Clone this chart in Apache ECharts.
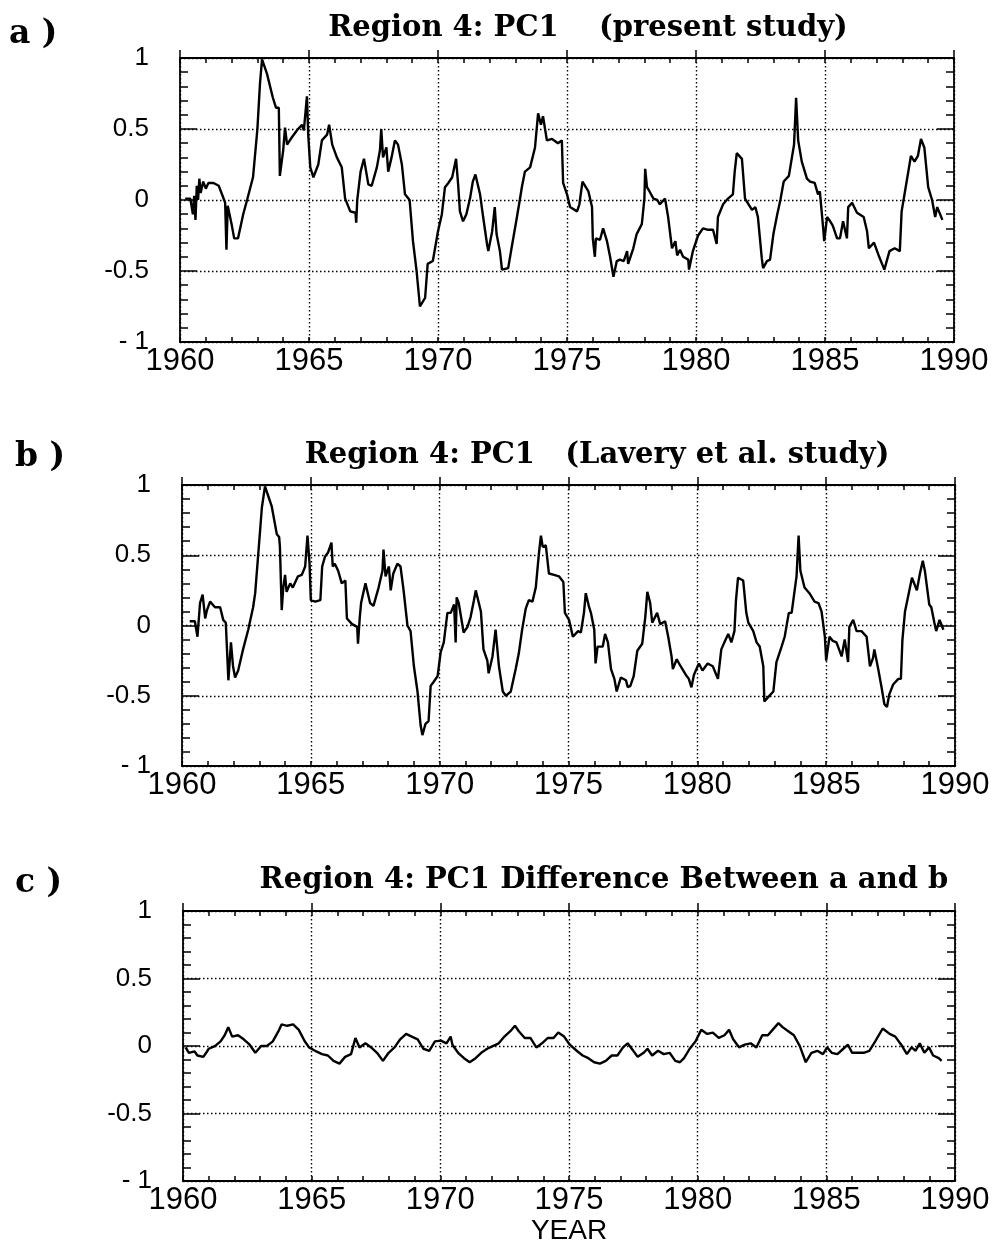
<!DOCTYPE html>
<html>
<head>
<meta charset="utf-8">
<script src="https://cdn.jsdelivr.net/npm/echarts@6/dist/echarts.min.js"></script>
<style>html,body{margin:0;padding:0;background:#fff}#c{width:999px;height:1246px}</style>
</head>
<body>
<div id="c"></div>
<script>
// ---- data (year, value) ----
const TITLES = ['Region 4: PC1    (present study)', 'Region 4: PC1   (Lavery et al. study)', 'Region 4: PC1 Difference Between a and b'];
const PANEL_LABELS = ['a )', 'b )', 'c )'];
const X_NAME = 'YEAR';

const TIME_A = [1960.2,1960.4,1960.5,1960.55,1960.6,1960.65,1960.7,1960.75,1960.8,1960.9,1961.0,1961.1,1961.3,1961.5,1961.65,1961.75,1961.8,1961.85,1962.0,1962.1,1962.25,1962.45,1962.6,1962.83,1963.0,1963.1,1963.18,1963.37,1963.6,1963.72,1963.83,1963.87,1964.0,1964.07,1964.15,1964.33,1964.53,1964.73,1964.8,1964.92,1964.97,1965.05,1965.17,1965.36,1965.5,1965.7,1965.78,1965.9,1966.08,1966.27,1966.4,1966.6,1966.8,1966.83,1966.87,1967.0,1967.13,1967.3,1967.43,1967.63,1967.75,1967.8,1967.87,1968.0,1968.07,1968.2,1968.33,1968.45,1968.6,1968.72,1968.9,1969.03,1969.17,1969.3,1969.5,1969.6,1969.8,1970.0,1970.15,1970.27,1970.4,1970.55,1970.7,1970.78,1970.85,1970.97,1971.1,1971.24,1971.35,1971.45,1971.63,1971.75,1971.9,1971.95,1972.1,1972.2,1972.27,1972.4,1972.48,1972.72,1972.85,1973.05,1973.17,1973.25,1973.37,1973.57,1973.76,1973.88,1973.99,1974.07,1974.22,1974.42,1974.65,1974.8,1974.85,1975.0,1975.12,1975.39,1975.48,1975.6,1975.83,1975.97,1976.0,1976.08,1976.12,1976.28,1976.4,1976.55,1976.67,1976.8,1976.93,1977.05,1977.2,1977.33,1977.37,1977.57,1977.7,1977.9,1978.0,1978.03,1978.1,1978.2,1978.35,1978.5,1978.6,1978.8,1978.92,1979.07,1979.2,1979.27,1979.38,1979.5,1979.7,1979.73,1979.88,1980.08,1980.27,1980.47,1980.66,1980.8,1980.85,1981.05,1981.24,1981.43,1981.5,1981.58,1981.78,1981.9,1982.17,1982.3,1982.4,1982.55,1982.6,1982.75,1982.87,1983.0,1983.15,1983.27,1983.4,1983.6,1983.8,1983.88,1983.96,1984.1,1984.3,1984.42,1984.6,1984.73,1984.8,1984.93,1984.97,1985.08,1985.2,1985.3,1985.47,1985.58,1985.7,1985.85,1985.9,1986.05,1986.24,1986.5,1986.63,1986.7,1986.9,1987.1,1987.3,1987.5,1987.7,1987.9,1987.97,1988.1,1988.33,1988.47,1988.6,1988.72,1988.85,1989.0,1989.15,1989.27,1989.35,1989.55];
const VALUE_A = [0.01,0.01,-0.1,0.03,-0.14,0.1,0.0,0.15,0.05,0.13,0.08,0.12,0.12,0.1,0.03,-0.02,-0.35,-0.04,-0.17,-0.27,-0.27,-0.1,0.0,0.16,0.5,0.82,0.99,0.89,0.72,0.65,0.65,0.17,0.35,0.51,0.39,0.44,0.49,0.53,0.49,0.73,0.46,0.23,0.16,0.25,0.42,0.46,0.53,0.39,0.3,0.23,0.01,-0.08,-0.09,-0.16,0.0,0.2,0.29,0.11,0.1,0.23,0.35,0.5,0.3,0.37,0.2,0.3,0.42,0.39,0.25,0.04,0.0,-0.29,-0.5,-0.75,-0.69,-0.45,-0.43,-0.22,-0.1,0.09,0.12,0.16,0.29,0.11,-0.08,-0.15,-0.1,0.01,0.13,0.18,0.04,-0.12,-0.31,-0.36,-0.22,-0.05,-0.24,-0.36,-0.49,-0.48,-0.34,-0.13,0.0,0.09,0.2,0.23,0.37,0.61,0.53,0.59,0.42,0.43,0.4,0.42,0.12,0.04,-0.05,-0.08,-0.03,0.13,0.06,-0.05,-0.27,-0.4,-0.27,-0.28,-0.2,-0.29,-0.4,-0.54,-0.43,-0.42,-0.43,-0.36,-0.45,-0.34,-0.24,-0.17,0.01,0.22,0.09,0.06,0.01,0.0,-0.03,0.01,-0.12,-0.34,-0.29,-0.39,-0.35,-0.4,-0.42,-0.49,-0.36,-0.25,-0.2,-0.21,-0.21,-0.31,-0.12,-0.03,0.01,0.04,0.2,0.33,0.29,0.01,-0.07,-0.05,-0.12,-0.41,-0.48,-0.43,-0.42,-0.24,-0.1,0.0,0.13,0.17,0.39,0.72,0.42,0.27,0.15,0.13,0.12,0.04,0.06,-0.2,-0.29,-0.12,-0.15,-0.18,-0.27,-0.27,-0.15,-0.27,-0.05,-0.02,-0.09,-0.12,-0.22,-0.34,-0.3,-0.4,-0.49,-0.36,-0.34,-0.36,-0.08,0.06,0.31,0.27,0.31,0.43,0.37,0.09,0.0,-0.12,-0.05,-0.14];

const TIME_B = [1960.3,1960.5,1960.6,1960.7,1960.8,1960.9,1960.97,1961.09,1961.28,1961.48,1961.6,1961.7,1961.8,1961.9,1961.98,1962.06,1962.18,1962.37,1962.57,1962.76,1962.84,1962.96,1963.1,1963.22,1963.35,1963.48,1963.68,1963.77,1963.8,1963.87,1963.93,1964.0,1964.06,1964.2,1964.3,1964.5,1964.65,1964.78,1964.87,1964.95,1965.0,1965.17,1965.37,1965.44,1965.55,1965.67,1965.8,1965.85,1965.93,1966.06,1966.2,1966.34,1966.4,1966.6,1966.8,1966.83,1966.9,1966.95,1967.12,1967.3,1967.43,1967.63,1967.78,1967.82,1967.9,1968.03,1968.1,1968.2,1968.36,1968.48,1968.6,1968.75,1968.87,1969.0,1969.14,1969.26,1969.33,1969.45,1969.57,1969.65,1969.77,1969.92,1970.04,1970.16,1970.3,1970.43,1970.56,1970.62,1970.66,1970.74,1970.93,1971.08,1971.2,1971.33,1971.4,1971.6,1971.7,1971.85,1971.9,1972.05,1972.17,1972.3,1972.45,1972.57,1972.76,1972.95,1973.07,1973.2,1973.34,1973.46,1973.6,1973.73,1973.85,1973.93,1974.0,1974.12,1974.24,1974.44,1974.63,1974.8,1974.86,1975.02,1975.17,1975.37,1975.48,1975.6,1975.67,1975.8,1975.87,1976.0,1976.05,1976.13,1976.33,1976.42,1976.53,1976.65,1976.78,1976.87,1977.03,1977.23,1977.3,1977.4,1977.53,1977.67,1977.86,1977.98,1978.06,1978.17,1978.25,1978.44,1978.56,1978.75,1978.87,1979.0,1979.05,1979.2,1979.35,1979.55,1979.67,1979.77,1979.87,1980.06,1980.2,1980.4,1980.6,1980.8,1980.93,1981.05,1981.2,1981.32,1981.44,1981.5,1981.58,1981.78,1981.9,1981.98,1982.17,1982.3,1982.42,1982.56,1982.6,1982.75,1982.95,1983.07,1983.27,1983.39,1983.55,1983.66,1983.85,1983.93,1984.0,1984.16,1984.35,1984.55,1984.7,1984.82,1984.95,1985.0,1985.13,1985.26,1985.4,1985.6,1985.72,1985.85,1985.9,1986.05,1986.18,1986.37,1986.57,1986.7,1986.82,1986.87,1987.02,1987.14,1987.26,1987.36,1987.45,1987.6,1987.8,1987.9,1987.96,1988.06,1988.33,1988.52,1988.64,1988.75,1988.83,1989.0,1989.08,1989.2,1989.27,1989.4,1989.55];
const VALUE_B = [0.03,0.03,-0.08,0.16,0.22,0.05,0.11,0.17,0.13,0.13,0.04,0.02,-0.39,-0.12,-0.29,-0.37,-0.32,-0.17,-0.03,0.13,0.23,0.51,0.84,0.99,0.92,0.85,0.65,0.63,0.56,0.11,0.27,0.36,0.24,0.3,0.27,0.35,0.36,0.42,0.64,0.44,0.18,0.17,0.18,0.42,0.49,0.52,0.59,0.42,0.44,0.39,0.3,0.32,0.05,0.01,-0.01,-0.13,0.06,0.16,0.3,0.16,0.14,0.27,0.39,0.54,0.35,0.42,0.25,0.37,0.44,0.42,0.25,0.0,-0.04,-0.29,-0.47,-0.71,-0.78,-0.7,-0.68,-0.43,-0.4,-0.36,-0.19,-0.12,0.09,0.09,0.15,-0.12,0.2,0.16,-0.05,-0.01,0.06,0.18,0.25,0.1,-0.17,-0.25,-0.34,-0.22,-0.03,-0.29,-0.47,-0.5,-0.47,-0.31,-0.2,-0.03,0.12,0.18,0.17,0.27,0.51,0.64,0.56,0.57,0.37,0.36,0.35,0.31,0.09,0.04,-0.08,-0.04,-0.05,0.09,0.23,0.13,0.09,-0.03,-0.27,-0.15,-0.15,-0.06,-0.12,-0.31,-0.38,-0.47,-0.37,-0.39,-0.44,-0.43,-0.36,-0.18,-0.13,0.06,0.24,0.16,0.02,0.09,0.01,0.03,-0.08,-0.22,-0.31,-0.24,-0.29,-0.35,-0.38,-0.44,-0.35,-0.27,-0.32,-0.27,-0.29,-0.38,-0.17,-0.12,-0.06,-0.12,-0.04,0.18,0.34,0.32,0.09,0.02,-0.04,-0.12,-0.15,-0.29,-0.54,-0.51,-0.47,-0.26,-0.15,-0.08,0.09,0.09,0.35,0.64,0.39,0.27,0.23,0.17,0.16,0.1,-0.08,-0.25,-0.08,-0.11,-0.12,-0.22,-0.1,-0.26,-0.01,0.04,-0.04,-0.04,-0.08,-0.29,-0.23,-0.17,-0.31,-0.43,-0.56,-0.58,-0.49,-0.42,-0.38,-0.38,-0.1,0.1,0.34,0.25,0.37,0.46,0.39,0.15,0.13,0.02,-0.04,0.04,-0.03];

const TIME_C = [1960.1,1960.23,1960.45,1960.56,1960.79,1960.9,1961.0,1961.24,1961.46,1961.62,1961.76,1961.91,1962.14,1962.36,1962.59,1962.81,1963.04,1963.26,1963.49,1963.71,1963.83,1964.05,1964.28,1964.5,1964.73,1964.9,1965.18,1965.4,1965.63,1965.85,1966.08,1966.3,1966.53,1966.7,1966.86,1967.09,1967.31,1967.54,1967.77,1967.99,1968.22,1968.44,1968.67,1968.89,1969.12,1969.34,1969.57,1969.79,1970.02,1970.24,1970.4,1970.47,1970.69,1970.92,1971.14,1971.37,1971.59,1971.82,1972.04,1972.27,1972.49,1972.72,1972.9,1973.05,1973.28,1973.5,1973.73,1973.95,1974.18,1974.4,1974.58,1974.81,1975.03,1975.3,1975.53,1975.75,1975.98,1976.2,1976.43,1976.66,1976.88,1977.1,1977.28,1977.44,1977.67,1977.9,1978.05,1978.23,1978.46,1978.68,1978.91,1979.13,1979.31,1979.47,1979.69,1979.92,1980.14,1980.37,1980.59,1980.82,1981.04,1981.22,1981.38,1981.61,1981.83,1982.06,1982.28,1982.51,1982.73,1982.91,1983.14,1983.3,1983.52,1983.74,1983.97,1984.2,1984.42,1984.65,1984.87,1985.03,1985.21,1985.43,1985.66,1985.84,1986.0,1986.22,1986.45,1986.67,1986.9,1987.19,1987.46,1987.68,1987.91,1988.13,1988.31,1988.47,1988.63,1988.81,1988.99,1989.15,1989.37,1989.48];
const VALUE_C = [-0.01,-0.05,-0.04,-0.07,-0.08,-0.05,-0.02,0.0,0.035,0.08,0.14,0.07,0.08,0.05,0.01,-0.05,0.0,0.0,0.035,0.11,0.16,0.15,0.16,0.12,0.035,-0.01,-0.04,-0.06,-0.07,-0.11,-0.13,-0.08,-0.06,0.06,-0.01,0.02,-0.01,-0.05,-0.11,-0.05,-0.01,0.05,0.09,0.07,0.05,-0.02,-0.035,0.035,0.04,0.02,0.07,0.01,-0.05,-0.09,-0.12,-0.09,-0.05,-0.02,0.0,0.02,0.07,0.11,0.15,0.11,0.06,0.06,-0.01,0.02,0.06,0.06,0.1,0.07,0.01,-0.035,-0.07,-0.09,-0.12,-0.13,-0.11,-0.07,-0.07,-0.01,0.02,-0.02,-0.08,-0.05,-0.02,-0.07,-0.035,-0.06,-0.05,-0.11,-0.12,-0.09,-0.02,0.035,0.12,0.09,0.1,0.06,0.08,0.12,0.05,-0.01,0.01,0.02,-0.01,0.08,0.08,0.12,0.17,0.14,0.11,0.08,0.0,-0.12,-0.05,-0.035,-0.06,-0.01,-0.05,-0.06,-0.02,0.01,-0.05,-0.05,-0.05,-0.035,0.035,0.13,0.09,0.07,0.01,-0.06,-0.01,-0.035,0.02,-0.05,-0.01,-0.07,-0.09,-0.11];

// ---- layout / style ----
const GRIDS = [
  {left: 180, top: 58, width: 774, height: 284},
  {left: 182, top: 485, width: 773, height: 281},
  {left: 183, top: 911, width: 772, height: 282}
];
const SERIES = [[TIME_A, VALUE_A], [TIME_B, VALUE_B], [TIME_C, VALUE_C]];
const BLACK = '#000';
const SANS = '"Liberation Sans", Arial, Helvetica, sans-serif';
const SERIF = '"DejaVu Serif", serif';
const axisLine = {show: true, onZero: false, lineStyle: {color: BLACK, width: 1.8}};
const dotted = {show: true, lineStyle: {color: BLACK, width: 1.4, type: [1.5, 2.5]}};

const xAxis = [], yAxis = [], series = [];
GRIDS.forEach((g, i) => {
  const base = {gridIndex: i, type: 'value', min: 1960, max: 1990, interval: 5};
  xAxis.push(Object.assign({}, base, {
    position: 'bottom', axisLine,
    axisTick: {show: true, inside: true, length: 5, lineStyle: {color: BLACK, width: 1.5}},
    minorTick: {show: true, splitNumber: 5, length: 5, lineStyle: {color: BLACK, width: 1.5}},
    axisLabel: {show: true, color: BLACK, fontSize: 31, fontFamily: SANS, margin: 4,
      showMinLabel: true, showMaxLabel: true, formatter: v => String(Math.round(v))},
    splitLine: dotted,
    name: i === 2 ? X_NAME : '', nameLocation: 'middle', nameGap: 32,
    nameTextStyle: {color: BLACK, fontSize: 28, fontFamily: SANS}
  }));
  xAxis.push(Object.assign({}, base, {
    position: 'top', axisLine,
    axisTick: {show: true, inside: true, length: 5, lineStyle: {color: BLACK, width: 1.5}},
    minorTick: {show: true, splitNumber: 5, length: 5, lineStyle: {color: BLACK, width: 1.5}},
    axisLabel: {show: false}, splitLine: {show: false}
  }));
  xAxis.push(Object.assign({}, base, {
    position: 'top', axisLine: {show: false, onZero: false},
    axisTick: {show: true, inside: false, length: 8, lineStyle: {color: BLACK, width: 1.5}},
    axisLabel: {show: false}, splitLine: {show: false}
  }));
  const ybase = {gridIndex: i, type: 'value', min: -1, max: 1, interval: 0.5, axisLine,
    axisTick: {show: true, inside: true, length: 17, lineStyle: {color: BLACK, width: 1.5}},
    minorTick: {show: true, splitNumber: 5, length: 8, lineStyle: {color: BLACK, width: 1.5}}};
  yAxis.push(Object.assign({}, ybase, {
    position: 'left', splitLine: dotted,
    axisLabel: {show: true, color: BLACK, fontSize: 26, fontFamily: SANS, margin: 31,
      showMinLabel: true, showMaxLabel: true,
      formatter: v => (v === -1 ? '- 1' : String(v))}
  }));
  yAxis.push(Object.assign({}, ybase, {position: 'right', axisLabel: {show: false}, splitLine: {show: false}}));
  const [t, v] = SERIES[i];
  series.push({
    type: 'line', xAxisIndex: 3 * i, yAxisIndex: 2 * i,
    data: t.map((x, k) => [x, v[k]]),
    showSymbol: false, symbol: 'none', clip: true,
    lineStyle: {color: BLACK, width: 2.4}
  });
});

const TITLE_POS = [{x: 588, y: 28}, {x: 597, y: 455}, {x: 604, y: 880}];
const LABEL_POS = [{x: 9, y: 34}, {x: 15, y: 457}, {x: 15, y: 883}];
const graphic = [];
TITLES.forEach((txt, i) => {
  graphic.push({type: 'text', x: TITLE_POS[i].x, y: TITLE_POS[i].y,
    style: {text: txt, fill: BLACK, font: 'bold 29px ' + SERIF, align: 'center', verticalAlign: 'middle'}});
  graphic.push({type: 'text', x: LABEL_POS[i].x, y: LABEL_POS[i].y,
    style: {text: PANEL_LABELS[i], fill: BLACK, font: 'bold 33px ' + SERIF, align: 'left', verticalAlign: 'middle'}});
});

const chart = echarts.init(document.getElementById('c'), null, {renderer: 'canvas'});
chart.setOption({
  animation: false,
  backgroundColor: '#fff',
  grid: GRIDS,
  xAxis, yAxis, series, graphic
});
</script>
</body>
</html>
